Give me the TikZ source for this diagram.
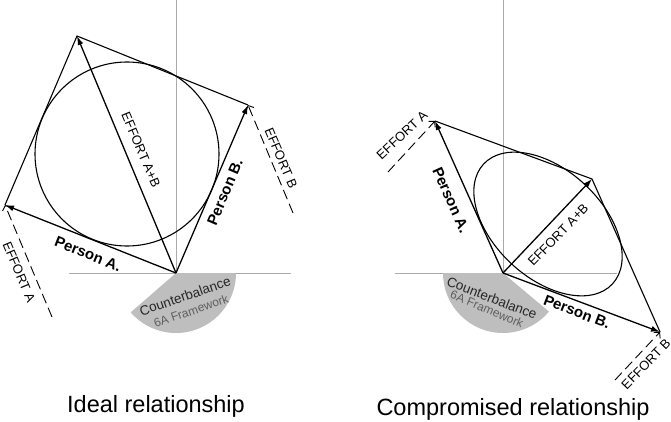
\documentclass[tikz,border=0pt]{standalone}
\usepackage{fontspec}
\setmainfont{Liberation Sans}
\usetikzlibrary{arrows.meta}
\definecolor{cbgray}{RGB}{190,190,190}
\definecolor{fwgray}{RGB}{95,95,95}
\definecolor{axgray}{RGB}{170,170,170}
\begin{document}
\begin{tikzpicture}[x=1pt,y=1pt,
		vec/.style={line width=1.3pt,-{Latex[length=9pt,width=6pt]}},
		side/.style={line width=1.1pt},
		eff/.style={line width=0.9pt,dash pattern=on 10pt off 5pt,-{Straight Barb[length=4pt,width=9pt]}},
		axis/.style={axgray,line width=0.6pt},
		lbl/.style={font=\fontsize{13}{14}\selectfont,inner sep=0pt},
		pers/.style={font=\fontsize{15}{15}\selectfont\bfseries,inner sep=0pt},
		cb/.style={font=\fontsize{13.5}{14}\selectfont,text=black!85,inner sep=0pt},
		fw/.style={font=\fontsize{12}{12}\selectfont,text=fwgray,inner sep=0pt},
		capt/.style={font=\fontsize{23.5}{24}\selectfont,inner sep=0pt,anchor=base}]
	\useasboundingbox (0,0) rectangle (671,421);
	\coordinate (OL) at (176,148);
	\coordinate (AL) at (5,216);
	\coordinate (BL) at (248,316);
	\coordinate (SL) at (77,385);
	\coordinate (eAL) at (52,104);
	\coordinate (eBL) at (293,208);
	\coordinate (OR) at (503,148);
	\coordinate (AR) at (435,300);
	\coordinate (BR) at (660,89);
	\coordinate (SR) at (592,242);
	\coordinate (eAR) at (388,249);
	\coordinate (eBR) at (615,41);
	\draw[axis] (176,421) -- (OL);
	\draw[axis] (69,148) -- (291,148);
	\draw[axis] (503,421) -- (OR);
	\draw[axis] (395,148) -- (617,148);
	\fill[cbgray] (OL) -- ++(0:60) arc[start angle=0,end angle=-139,radius=60] -- cycle;
	\fill[cbgray] (OR) -- ++(180:60) arc[start angle=180,end angle=320,radius=60] -- cycle;
	\node[cb,rotate=19] (cbL) at (185,125) {Counterbalance};
	\node[fw,rotate=19] (fwL) at (191,110) {6A Framework};
	\node[cb,rotate=-21] (cbR) at (492,123) {Counterbalance};
	\node[fw,rotate=-23] (fwR) at (487,112) {6A Framework};
	\draw[side] (127,267) circle[radius=92];
	\draw[side,rotate around={-43:(548,197)}] (548,197) ellipse[x radius=88,y radius=54];
	\draw[side] (AL) -- (SL) -- (BL);
	\draw[side] (AR) -- (SR) -- (BR);
	\draw[vec] (OL) -- (AL);
	\draw[vec] (OL) -- (BL);
	\draw[vec] (OL) -- (SL);
	\draw[vec] (OR) -- (AR);
	\draw[vec] (OR) -- (BR);
	\draw[vec] (OR) -- (SR);
	\draw[eff] (eAL) -- (AL);
	\draw[eff] (eBL) -- (BL);
	\draw[eff] (eAR) -- (AR);
	\draw[eff] (eBR) -- (BR);
	\node[lbl,rotate=-67] (sumL) at (141,271) {EFFORT A+B};
	\node[pers,rotate=67] (pBL) at (225,229) {Person B.};
	\node[pers,rotate=-21.6] (pAL) at (88,167) {Person A.};
	\node[lbl,rotate=-67] (effAL) at (19,149) {EFFORT A};
	\node[lbl,rotate=-67] (effBL) at (281,263) {EFFORT B};
	\node[lbl,rotate=43] (effAR) at (402,286) {EFFORT A};
	\node[pers,rotate=-66] (pAR) at (451,221) {Person A.};
	\node[lbl,rotate=46] (sumR) at (558,186) {EFFORT A+B};
	\node[pers,rotate=-21] (pBR) at (577,109) {Person B.};
	\node[lbl,rotate=46] (effBR) at (646,57) {EFFORT B};
	\node[capt] (capL) at (156,9) {Ideal relationship};
	\node[capt] (capR) at (513,6) {Compromised relationship};
\end{tikzpicture}
\end{document}
